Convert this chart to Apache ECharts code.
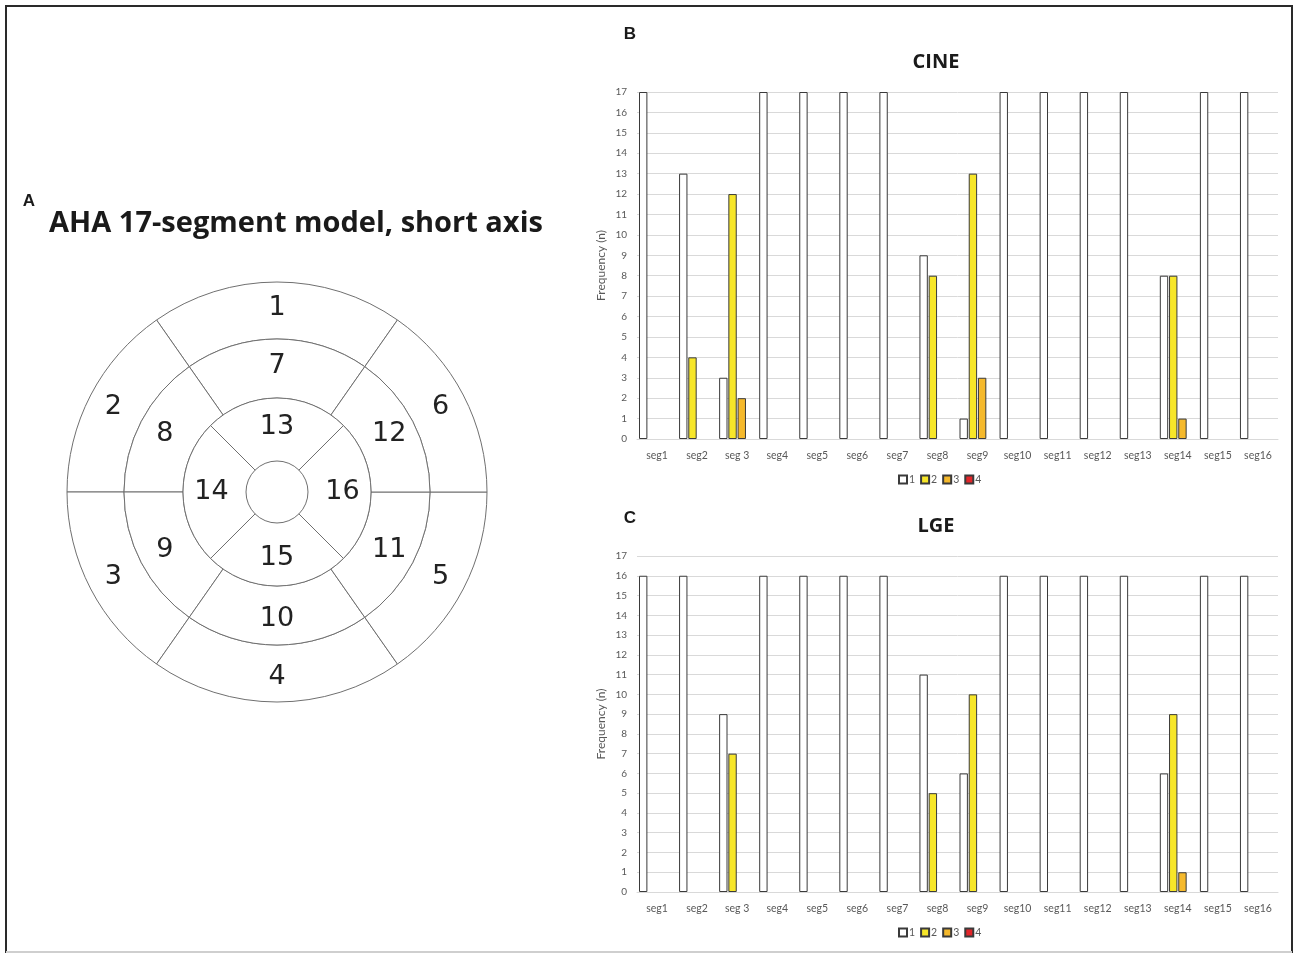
<!DOCTYPE html>
<html>
<head>
<meta charset="utf-8">
<script src="https://cdn.jsdelivr.net/npm/echarts@6/dist/echarts.min.js"></script>
<style>
html,body{margin:0;padding:0;background:#fff;}
#chart{width:1293px;height:953px;}
</style>
</head>
<body>
<div id="chart"></div>
<script>
// ---- Data ----
const categories = ['seg1','seg2','seg 3','seg4','seg5','seg6','seg7','seg8','seg9','seg10','seg11','seg12','seg13','seg14','seg15','seg16'];
const seriesNames = ['1','2','3','4'];
const yTicks = [0,1,2,3,4,5,6,7,8,9,10,11,12,13,14,15,16,17];

// CINE frequencies per score
const cine1 = [17,13,3,17,17,17,17,9,1,17,17,17,17,8,17,17];
const cine2 = [0,4,12,0,0,0,0,8,13,0,0,0,0,8,0,0];
const cine3 = [0,0,2,0,0,0,0,0,3,0,0,0,0,1,0,0];
const cine4 = [0,0,0,0,0,0,0,0,0,0,0,0,0,0,0,0];

// LGE frequencies per score
const lge1 = [16,16,9,16,16,16,16,11,6,16,16,16,16,6,16,16];
const lge2 = [0,0,7,0,0,0,0,5,10,0,0,0,0,9,0,0];
const lge3 = [0,0,0,0,0,0,0,0,0,0,0,0,0,1,0,0];
const lge4 = [0,0,0,0,0,0,0,0,0,0,0,0,0,0,0,0];

// AHA bull's-eye segment labels and angular spans (degrees)
const outerSegments = ['1','2','3','4','5','6'];
const middleSegments = ['7','8','9','10','11','12'];
const innerSegments = ['13','14','15','16'];
const sixSpans = [70,55,55,70,55,55];
const fourSpans = [90,90,90,90];

const barColors = ['#ffffff','#f7e629','#f5b92c','#e3262a'];
const axisFont = 'Lato, "Open Sans", sans-serif';
const labelColor = '#595959';

const chart = echarts.init(document.getElementById('chart'), null, {renderer:'canvas'});

function yAxisDef(gridIndex){
  return {
    type:'value', gridIndex, min:yTicks[0], max:yTicks[yTicks.length-1], interval:1,
    name:'Frequency (n)', nameLocation:'middle', nameRotate:90, nameGap:30,
    nameTextStyle:{color:labelColor, fontSize:12, fontFamily:axisFont},
    axisLine:{show:false}, axisTick:{show:false},
    axisLabel:{color:labelColor, fontSize:10, fontFamily:axisFont, margin:10},
    splitLine:{lineStyle:{color:'#d9d9d9', width:1}}
  };
}
function xAxisDef(gridIndex){
  return {
    type:'category', gridIndex, data:categories,
    axisLine:{lineStyle:{color:'#d9d9d9', width:1}}, axisTick:{show:false},
    axisLabel:{color:labelColor, fontSize:10.5, fontFamily:axisFont, margin:11, interval:0}
  };
}
function barSeries(name, data, idx, axisIdx){
  return {
    type:'bar', name, xAxisIndex:axisIdx, yAxisIndex:axisIdx,
    data:data.map(v => v === 0 ? '-' : v),
    barGap:'10%', barCategoryGap:'10%',
    itemStyle:{color:barColors[idx], borderColor:'#3a3a3a', borderWidth:1},
    silent:true, animation:false
  };
}
function pieRing(labels, spans, radius, startAngle){
  return {
    type:'pie', center:[277,492], radius, startAngle, clockwise:false,
    silent:true, animation:false, avoidLabelOverlap:false, legendHoverLink:false,
    data:labels.map((n,i) => ({name:n, value:spans[i]})),
    itemStyle:{color:'#ffffff', borderColor:'#6f6f6f', borderWidth:1},
    label:{show:true, position:'inside', formatter:'{b}', color:'#222', fontSize:27, fontFamily:'"DejaVu Sans", sans-serif'},
    labelLine:{show:false}, emphasis:{disabled:true}
  };
}

const cineData = [cine1,cine2,cine3,cine4];
const lgeData = [lge1,lge2,lge3,lge4];

const series = [];
cineData.forEach((d,i)=>series.push(barSeries(seriesNames[i], d, i, 0)));
lgeData.forEach((d,i)=>series.push(barSeries(seriesNames[i], d, i, 1)));
series.push(pieRing(outerSegments, sixSpans, [153,210], 55));
series.push(pieRing(middleSegments, sixSpans, [94,153], 55));
series.push(pieRing(innerSegments, fourSpans, [31,94], 45));

const legendDef = (top) => ({
  data:seriesNames, top, left:898, padding:0, itemWidth:8, itemHeight:8, itemGap:5,
  icon:'rect', selectedMode:false,
  textStyle:{color:labelColor, fontSize:10.5, fontFamily:axisFont, padding:[0,0,0,-3]}
});

function txt(x,y,text,size,family){
  return {type:'text', x, y, silent:true, style:{text, fontSize:size, fontWeight:'bold',
    fontFamily:family || '"Open Sans", sans-serif', fill:'#1a1a1a', textAlign:'center', textVerticalAlign:'middle'}};
}

chart.setOption({
  animation:false,
  grid:[
    {left:637, right:15, top:92, height:347, containLabel:false},
    {left:637, right:15, top:556, height:336, containLabel:false}
  ],
  xAxis:[xAxisDef(0), xAxisDef(1)],
  yAxis:[yAxisDef(0), yAxisDef(1)],
  legend:[legendDef(474), legendDef(927)],
  series,
  graphic:[
    {type:'rect', shape:{x:6, y:6, width:1286, height:970}, style:{fill:'none', stroke:'#2a2a2a', lineWidth:2}, silent:true},
    {type:'line', shape:{x1:6, y1:952, x2:1292, y2:952}, style:{stroke:'#cfcfcf', lineWidth:2}, silent:true},
    txt(29,201,'A',17,'"Liberation Sans", Arial, sans-serif'),
    txt(296,224,'AHA 17-segment model, short axis',29),
    txt(630,34,'B',17,'"Liberation Sans", Arial, sans-serif'),
    txt(936,62,'CINE',20),
    txt(630,518,'C',17,'"Liberation Sans", Arial, sans-serif'),
    txt(936,526,'LGE',20)
  ]
});
</script>
</body>
</html>
